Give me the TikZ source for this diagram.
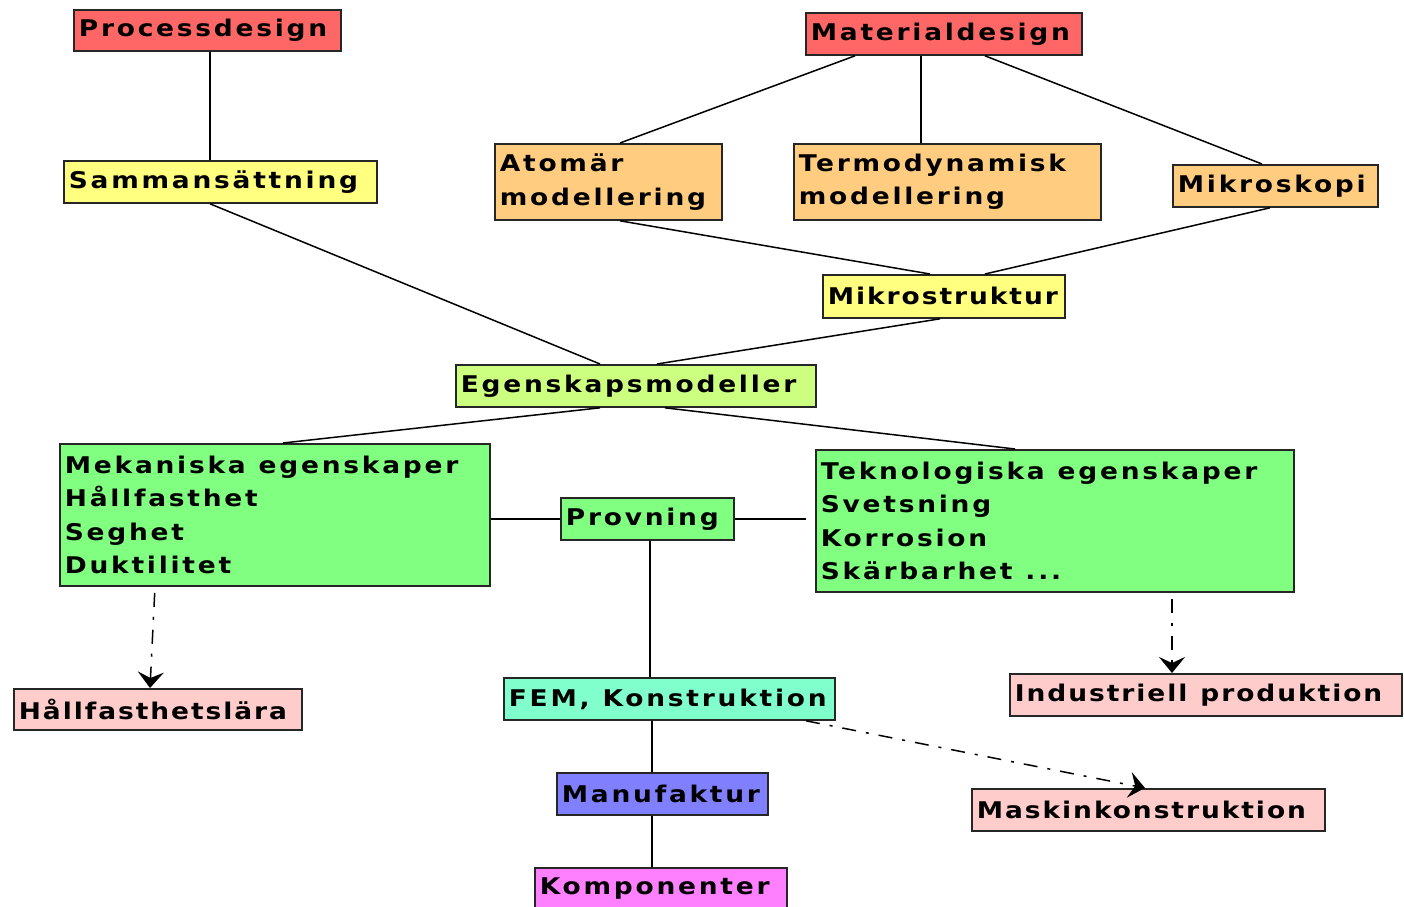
\documentclass[tikz,border=0pt]{standalone}
\usepackage{fontspec}
\newfontfamily\boxfont{DejaVu Sans Bold}[LetterSpace=12,FakeStretch=1.15]
\newfontfamily\boxfonttight{DejaVu Sans Bold}[LetterSpace=8.5,FakeStretch=1.15]
\newcommand{\boxsetup}{\boxfont\fontsize{11.5}{16.75}\selectfont}
\newcommand{\boxsetuptight}{\boxfonttight\fontsize{11.5}{16.75}\selectfont}
\usetikzlibrary{calc,arrows.meta}
\definecolor{cred}{HTML}{FF6666}
\definecolor{corange}{HTML}{FFCC80}
\definecolor{cyellow}{HTML}{FFFF80}
\definecolor{clime}{HTML}{CCFF80}
\definecolor{cgreen}{HTML}{80FF80}
\definecolor{cpink}{HTML}{FFCCCC}
\definecolor{caqua}{HTML}{80FFCC}
\definecolor{cblue}{HTML}{8080FF}
\definecolor{cmag}{HTML}{FF80FF}
\tikzset{
  box/.style={draw=black!85, line width=0.9pt, anchor=north west, inner xsep=2.5pt, inner ysep=0pt,
    align=flush left, font=\boxsetup,
    execute at begin node={\setlength{\spaceskip}{6.5pt plus 1pt}\setlength{\xspaceskip}{6.5pt plus 1pt}}},
  tight/.style={font=\boxsetuptight},
  bx/.style n args={3}{minimum width=#1pt, minimum height=#2pt, text width=#3pt},
  conn/.style={line width=0.75pt, black},
  dashconn/.style={line width=0.75pt, black, dash pattern=on 7pt off 5pt on 1.5pt off 5pt,
    -{Stealth[length=8pt,width=13pt,inset=3pt]}},
}
\begin{document}
\begin{tikzpicture}[x=0.5pt,y=-0.5pt]
\useasboundingbox (0,0) rectangle (1404,906);
\clip (0,0) rectangle (1404,906);
% nodes
\node[box, fill=cred, bx={133.5}{20.5}{128.5}] (proc) at (73,9) {Processdesign};
\node[box, fill=cred, bx={138}{21}{133}] (mat) at (805,12) {Materialdesign};
\node[box, fill=cyellow, bx={156.5}{21}{151.5}] (sam) at (63,160) {Sammansättning};
\node[box, fill=corange, bx={113.5}{38}{108.5}] (atom) at (494,143) {Atomär\\modellering};
\node[box, fill=corange, bx={153.5}{38}{148.5}] (termo) at (793,143) {Termodynamisk\\modellering};
\node[box, fill=corange, bx={102.5}{21}{97.5}] (mikro) at (1172,164) {Mikroskopi};
\node[box, tight, fill=cyellow, bx={121}{21.5}{116}] (mstr) at (822,274) {Mikrostruktur};
\node[box, fill=clime, bx={180}{21}{175}] (egen) at (455,364) {Egenskapsmodeller};
\node[box, fill=cgreen, bx={215}{71}{210}] (mek) at (59,443) {Mekaniska egenskaper\\Hållfasthet\\Seghet\\Duktilitet};
\node[box, fill=cgreen, bx={86.5}{21}{81.5}] (prov) at (560,497) {Provning};
\node[box, fill=cgreen, bx={239}{71}{234}] (tek) at (815,449) {Teknologiska egenskaper\\Svetsning\\Korrosion\\Skärbarhet ...};
\node[box, tight, fill=cpink, bx={144}{20.5}{139}] (hall) at (13,688) {Hållfasthetslära};
\node[box, fill=caqua, bx={165.5}{21}{160.5}] (fem) at (503,677) {FEM, Konstruktion};
\node[box, tight, fill=cpink, bx={196}{21}{191}] (ind) at (1009,673) {Industriell produktion};
\node[box, fill=cblue, bx={105.5}{21}{100.5}] (manu) at (556,772) {Manufaktur};
\node[box, tight, fill=cpink, bx={176.5}{21}{171.5}] (mask) at (971,788) {Maskinkonstruktion};
\node[box, fill=cmag, bx={126}{21}{121}] (komp) at (534,867) {Komponenter};
% connectors
\draw[conn] ($(proc.south west)+(137,0)$) -- ($(sam.north west)+(147,0)$);
\draw[conn] ($(mat.south west)+(50,0)$) -- ($(atom.north west)+(126,0)$);
\draw[conn] ($(mat.south west)+(116,0)$) -- ($(termo.north west)+(128,0)$);
\draw[conn] ($(mat.south west)+(180,0)$) -- ($(mikro.north west)+(90,0)$);
\draw[conn] ($(sam.south west)+(147,0)$) -- ($(egen.north west)+(145,0)$);
\draw[conn] ($(atom.south west)+(126,0)$) -- ($(mstr.north west)+(108,0)$);
\draw[conn] ($(mikro.south west)+(98,0)$) -- ($(mstr.north west)+(163,0)$);
\draw[conn] ($(mstr.south west)+(118,0)$) -- ($(egen.north west)+(202,0)$);
\draw[conn] ($(egen.south west)+(145,0)$) -- ($(mek.north west)+(224,0)$);
\draw[conn] ($(egen.south west)+(210,0)$) -- ($(tek.north west)+(200,0)$);
\draw[conn] (prov.west) -- (prov.west -| mek.east);
\draw[conn, shorten >=4.5pt] (prov.east) -- (prov.east -| tek.west);
\draw[conn] ($(prov.south west)+(90,0)$) -- ($(fem.north west)+(147,0)$);
\draw[conn] ($(fem.south west)+(149,0)$) -- ($(manu.north west)+(96,0)$);
\draw[conn] ($(manu.south west)+(96,0)$) -- ($(komp.north west)+(118,0)$);
\draw[dashconn, shorten <=3pt] ($(mek.south west)+(96,0)$) -- ($(hall.north west)+(137,0)$);
\draw[dashconn, shorten <=3pt] ($(tek.south west)+(357,0)$) -- ($(ind.north west)+(163,0)$);
\draw[dashconn] ($(fem.south west)+(303,0)$) -- ($(mask.north west)+(174,0)$);
\end{tikzpicture}
\end{document}
